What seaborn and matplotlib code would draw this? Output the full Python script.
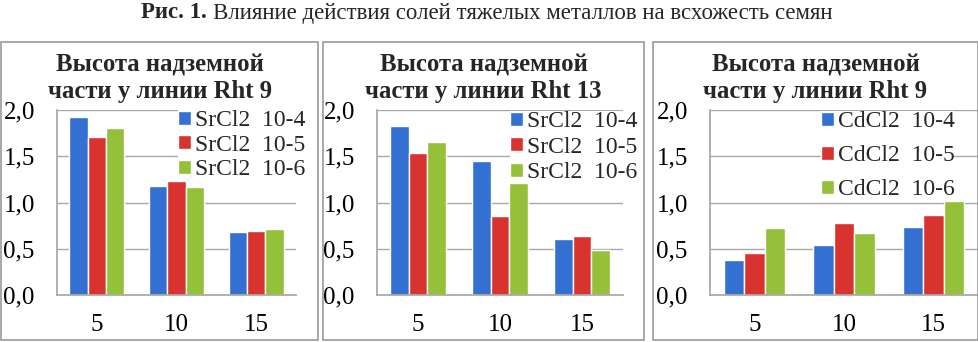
"""
Рис. 1 - Высота надземной части (три панели, SrCl2 / CdCl2).
"""

import pandas as pd
import matplotlib
matplotlib.use("Agg")
import matplotlib.pyplot as plt
import seaborn as sns
from matplotlib.patches import Rectangle
from matplotlib.ticker import FuncFormatter

# --- Daten -------------------------------------------------------------
days = ["5", "10", "15"]

sr_labels = ["SrCl2  10-4", "SrCl2  10-5", "SrCl2  10-6"]
cd_labels = ["CdCl2  10-4", "CdCl2  10-5", "CdCl2  10-6"]

rht9_sr = [[1.92, 1.18, 0.68],
           [1.71, 1.23, 0.69],
           [1.81, 1.17, 0.71]]
rht13_sr = [[1.83, 1.45, 0.61],
            [1.54, 0.85, 0.64],
            [1.65, 1.21, 0.49]]
rht9_cd = [[0.38, 0.54, 0.73],
           [0.45, 0.78, 0.86],
           [0.72, 0.67, 1.02]]

titles = ["Высота надземной\nчасти у линии Rht 9",
          "Высота надземной\nчасти у линии Rht 13",
          "Высота надземной\nчасти у линии Rht 9"]
yticks = [0.0, 0.5, 1.0, 1.5, 2.0]

COLORS = ["#3370D2", "#D8332E", "#94C03A"]
GRID = "#A8A8A8"
W, H = 979, 342

sns.set_theme(style="white")
plt.rcParams["font.family"] = ["Liberation Serif", "DejaVu Serif"]


def to_long(values, labels):
    rows = []
    for lab, vals in zip(labels, values):
        for d, v in zip(days, vals):
            rows.append({"day": d, "series": lab, "value": v})
    return pd.DataFrame(rows)


# Panelrahmen, Achsen (Pixel: links, oben, rechts, unten), Legende (x, y), Abstand
panels = [
    dict(data=rht9_sr, labels=sr_labels, box=(1, 42, 318, 340),
         ax=(57, 110, 296, 295), leg=(178, 110), sp=0.15),
    dict(data=rht13_sr, labels=sr_labels, box=(323, 42, 644, 340),
         ax=(377, 110, 623, 295), leg=(510, 111), sp=0.2),
    dict(data=rht9_cd, labels=cd_labels, box=(653, 42, 978, 340),
         ax=(710, 110, 978, 295), leg=(821, 111), sp=0.55),
]

fig = plt.figure(figsize=(W / 100, H / 100), dpi=100)

# Überschrift
fig.text(207 / W, 1 - 13 / H, "Рис. 1.", ha="right", va="center",
         fontsize=16.5, fontweight="bold")
fig.text(213 / W, 1 - 13 / H,
         "Влияние действия солей тяжелых металлов на всхожесть семян",
         ha="left", va="center", fontsize=16.5)

for i, p in enumerate(panels):
    bx0, by0, bx1, by1 = p["box"]
    fig.add_artist(Rectangle((bx0 / W, 1 - by1 / H), (bx1 - bx0) / W, (by1 - by0) / H,
                             transform=fig.transFigure, fill=False,
                             edgecolor="#9A9A9A", linewidth=1.2))
    l, t, r, b = p["ax"]
    ax = fig.add_axes([l / W, 1 - b / H, (r - l) / W, (b - t) / H])
    df = to_long(p["data"], p["labels"])
    sns.barplot(data=df, x="day", y="value", hue="series", palette=COLORS,
                saturation=1, width=0.69, gap=0, ax=ax, legend=True)
    ax.set_ylim(0, 2.0)
    ax.set_yticks(yticks)
    ax.yaxis.set_major_formatter(FuncFormatter(lambda v, _: f"{v:.1f}".replace(".", ",")))
    ax.grid(axis="y", color=GRID, linewidth=1.0)
    ax.set_axisbelow(True)
    for side in ["top", "right"]:
        ax.spines[side].set_visible(False)
    for side in ["left", "bottom"]:
        ax.spines[side].set_color(GRID)
    ax.tick_params(axis="both", length=0, labelsize=18, colors="black")
    ax.tick_params(axis="y", pad=16)
    ax.tick_params(axis="x", pad=14)
    ax.set_xlabel("")
    ax.set_ylabel("")

    handles, labels = ax.get_legend_handles_labels()
    ax.get_legend().remove()
    lx, ly = p["leg"]
    ax.legend(handles, labels, loc="upper left",
              bbox_to_anchor=(lx / W, 1 - ly / H), bbox_transform=fig.transFigure,
              fontsize=17, frameon=True, framealpha=1, facecolor="white",
              edgecolor="none", fancybox=False, handlelength=0.55,
              handleheight=0.55, handletextpad=0.15, labelspacing=p["sp"],
              borderpad=0.0, borderaxespad=0)

    cx = (bx0 + bx1) / 2
    fig.text(cx / W, 1 - 78 / H, titles[i], ha="center", va="center",
             fontsize=17.8, fontweight="bold", linespacing=1.2)

fig.savefig("out.png", dpi=100)
